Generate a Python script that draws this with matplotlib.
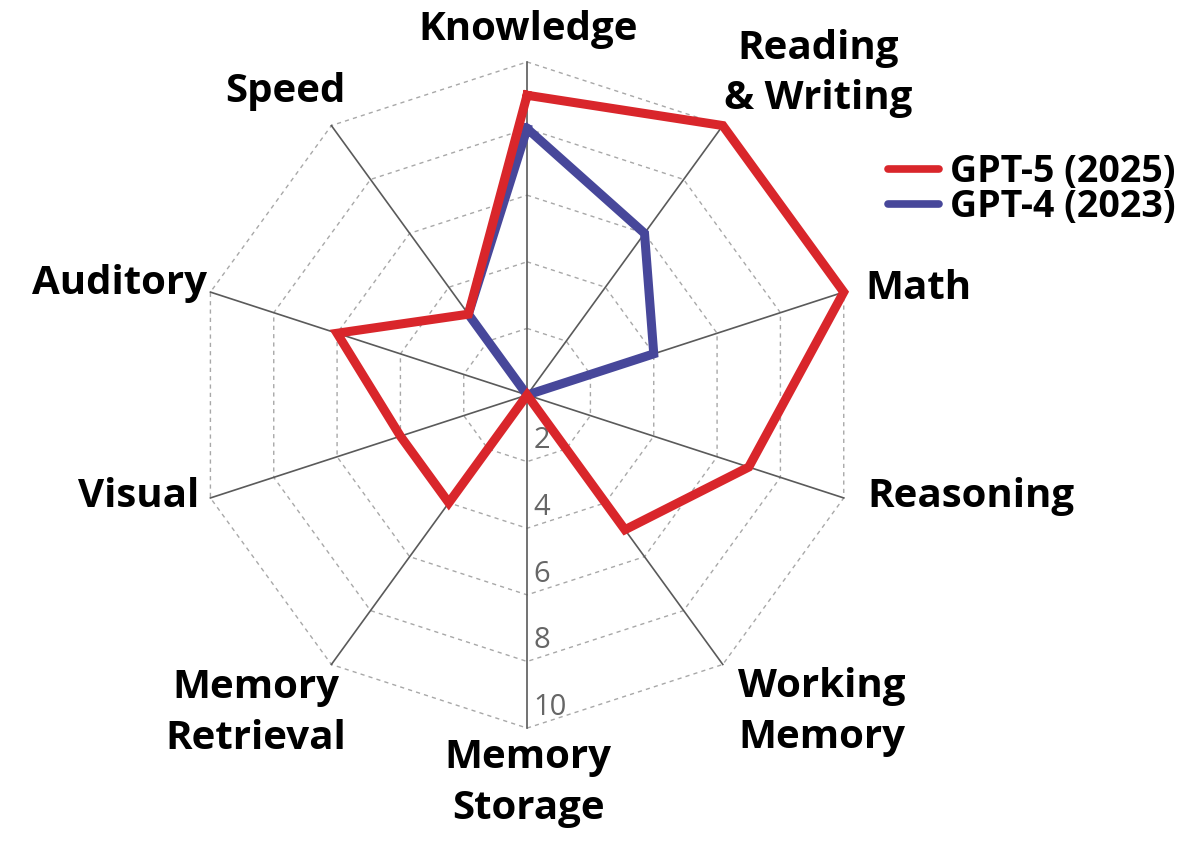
import numpy as np
import matplotlib.pyplot as plt

# axis names, clockwise from the top
categories = ['Knowledge', 'Reading\n& Writing', 'Math', 'Reasoning', 'Working\nMemory',
              'Memory\nStorage', 'Memory\nRetrieval', 'Visual', 'Auditory', 'Speed']
gpt5 = [9, 10, 10, 7, 5, 0, 4, 4, 6, 3]
gpt4 = [8, 6, 4, 0, 0, 0, 0, 0, 0, 3]
ring_ticks = [2, 4, 6, 8, 10]
series_names = ['GPT-5 (2025)', 'GPT-4 (2023)']

# where the axis names sit (data units, centre of the text)
label_xy = [(0.03, 10.96), (8.74, 9.65), (11.74, 3.21), (13.33, -3.06), (8.86, -9.52),
            (0.03, -11.65), (-8.14, -9.55), (-11.68, -3.06), (-12.25, 3.36), (-7.27, 9.10)]

plt.rcParams['font.family'] = ['Open Sans', 'DejaVu Sans']

RED = '#d9262b'
BLUE = '#47479a'

n = len(categories)
angles = np.deg2rad(90 - 360 / n * np.arange(n))
rmax = ring_ticks[-1]


def to_xy(vals):
    vals = np.asarray(vals, float)
    x = vals * np.cos(angles)
    y = vals * np.sin(angles)
    return np.append(x, x[0]), np.append(y, y[0])


fig = plt.figure(figsize=(12, 8.43), dpi=100)
ax = fig.add_axes([0, 0, 1, 1])
ax.set_xlim(-15.83, 20.21)
ax.set_ylim(-13.45, 11.86)
ax.axis('off')

# dashed decagon rings
for r in ring_ticks:
    gx, gy = to_xy([r] * n)
    ax.plot(gx, gy, color='#a8a8a8', lw=1.0, ls=(0, (3, 3)), zorder=1)

# spokes
for a in angles:
    ax.plot([0, rmax * np.cos(a)], [0, rmax * np.sin(a)], color='#5a5a5a', lw=1.2, zorder=2)

# ring values along the bottom spoke
for r in ring_ticks:
    ax.text(0.2, -r + 0.4, str(r), ha='left', va='baseline', fontsize=21,
            color='#666666', zorder=3)

x4, y4 = to_xy(gpt4)
x5, y5 = to_xy(gpt5)
l4, = ax.plot(x4, y4, color=BLUE, lw=6.5, solid_joinstyle='miter', zorder=4,
              label=series_names[1])
l5, = ax.plot(x5, y5, color=RED, lw=6.5, solid_joinstyle='miter', zorder=5,
              label=series_names[0])

for name, (tx, ty) in zip(categories, label_xy):
    ax.text(tx, ty, name, ha='center', va='center', fontsize=29, fontweight='bold',
            linespacing=1.38, color='black')

leg = ax.legend(handles=[l5, l4], loc='upper left', bbox_to_anchor=(0.74, 0.818),
                bbox_transform=fig.transFigure, frameon=False,
                prop={'size': 27, 'weight': 'bold'},
                handlelength=1.35, handletextpad=0.3, labelspacing=-0.1,
                borderpad=0, borderaxespad=0)
for h in leg.get_lines():
    h.set_linewidth(5.5)
    h.set_solid_capstyle('round')

fig.savefig('out.png', dpi=100)
